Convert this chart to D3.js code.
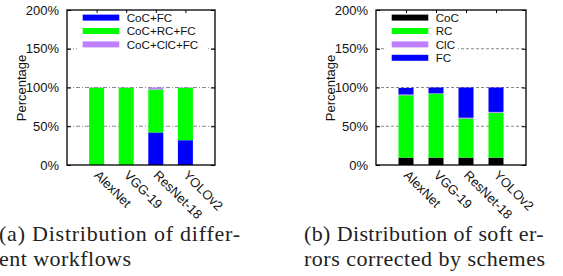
<!DOCTYPE html>
<html>
<head>
<meta charset="utf-8">
<script src="https://cdn.jsdelivr.net/npm/d3@7"></script>
<style>
  html, body { margin: 0; padding: 0; background: #fff; }
  svg { display: block; }
</style>
</head>
<body>
<svg id="chart" width="563" height="276"></svg>
<script>
// ---------- data ----------
const categories = ["AlexNet", "VGG-19", "ResNet-18", "YOLOv2"];
const yTicks = [0, 50, 100, 150, 200];

// (a) Distribution of different workflows
const workflowKeys = ["CoC+FC", "CoC+RC+FC", "CoC+ClC+FC"];
const cocFc      = [0, 0, 42, 32];
const cocRcFc    = [99.5, 99.5, 55.5, 67.5];
const cocClcFc   = [0.5, 0.5, 2.5, 0.5];

// (b) Distribution of soft errors corrected by schemes
const schemeKeys = ["CoC", "RC", "ClC", "FC"];
const cocVals = [9.5, 9.5, 9.5, 9.5];
const rcVals  = [80.5, 82.5, 50.5, 58];
const clcVals = [1, 0.5, 1, 1];
const fcVals  = [8.5, 7.5, 39, 31.5];

const captionA = ["(a) Distribution of differ-", "ent workflows"];
const captionB = ["(b) Distribution of soft er-", "rors corrected by schemes"];

const colorsA = ["#0000ff", "#00ff00", "#bf80ff"];
const colorsB = ["#000000", "#00ff00", "#bf80ff", "#0000ff"];

// ---------- drawing ----------
const svg = d3.select("#chart");
const SANS = "'Liberation Sans', Arial, Helvetica, sans-serif";
const SERIF = "'Liberation Serif', 'Times New Roman', serif";

function drawPanel(opts) {
  const { left, right, top, bottom, keys, series, colors, legendBox, gridDash } = opts;
  const g = svg.append("g");
  const rows = categories.map((c, i) => {
    const r = { cat: c };
    keys.forEach((k, j) => r[k] = series[j][i]);
    return r;
  });
  const stacked = d3.stack().keys(keys)(rows);

  const x = d3.scalePoint().domain(categories).range([left, right]).padding(1);
  const y = d3.scaleLinear().domain([0, 200]).range([bottom, top]);
  const barW = 15;

  // grid lines
  g.selectAll("line.grid").data(yTicks.filter(d => d > 0 && d < 200)).enter()
    .append("line")
    .attr("x1", left).attr("x2", right)
    .attr("y1", d => y(d)).attr("y2", d => y(d))
    .attr("stroke", "#8a8a8a").attr("stroke-width", 1)
    .attr("stroke-dasharray", gridDash);

  // bars
  stacked.forEach((layer, j) => {
    g.selectAll(null).data(layer).enter().append("rect")
      .attr("x", d => x(d.data.cat) - barW / 2)
      .attr("width", barW)
      .attr("y", d => y(d[1]))
      .attr("height", d => Math.max(0, y(d[0]) - y(d[1])))
      .attr("fill", colors[j]);
  });

  // legend box (opaque)
  g.append("rect")
    .attr("x", legendBox[0]).attr("y", top + 1)
    .attr("width", legendBox[1] - legendBox[0])
    .attr("height", keys.length * 13.6 + 1)
    .attr("fill", "#fff");
  keys.forEach((k, j) => {
    const cy = 17.6 + j * 13.4;
    g.append("rect")
      .attr("x", left + 15.7).attr("y", cy - 3)
      .attr("width", 36.6).attr("height", 6)
      .attr("fill", colors[j]);
    g.append("text")
      .attr("x", left + 59.7).attr("y", cy + 4.3)
      .style("font-family", SANS)
      .style("font-size", "11.6px")
      .attr("textLength", null)
      .attr("fill", "#111")
      .text(k);
  });

  // axes
  const yAxisL = d3.axisLeft(y).tickValues(yTicks).tickFormat(d => d + "%")
    .tickSize(-4).tickPadding(8);
  const gy = g.append("g").attr("transform", `translate(${left},0)`).call(yAxisL);
  gy.select(".domain").remove();
  gy.selectAll("text").style("font-size", "13px").style("font-family", SANS).attr("fill", "#111");
  gy.selectAll("line").attr("stroke", "#000");

  const yAxisR = d3.axisRight(y).tickValues(yTicks).tickFormat("").tickSize(-4);
  const gyr = g.append("g").attr("transform", `translate(${right},0)`).call(yAxisR);
  gyr.select(".domain").remove();

  const xAxisT = d3.axisTop(x).tickFormat("").tickSize(-3);
  const gxt = g.append("g").attr("transform", `translate(0,${top})`).call(xAxisT);
  gxt.select(".domain").remove();

  // frame
  g.append("rect")
    .attr("x", left).attr("y", top)
    .attr("width", right - left).attr("height", bottom - top)
    .attr("fill", "none").attr("stroke", "#000").attr("stroke-width", 1.3);

  // x labels rotated
  g.selectAll("text.xl").data(categories).enter().append("text")
    .attr("class", "xl")
    .style("font-size", "13px").style("font-family", SANS)
    .attr("fill", "#111")
    .attr("text-anchor", "start")
    .attr("transform", d => `translate(${x(d) - 3},${bottom + 11}) rotate(45)`)
    .text(d => d);

  // y title
  g.append("text")
    .attr("transform", `translate(${left - 41.5},${(top + bottom) / 2 + 0.5}) rotate(-90)`)
    .attr("text-anchor", "middle")
    .style("font-size", "13px").style("font-family", SANS)
    .attr("fill", "#111")
    .text("Percentage");
}

drawPanel({
  left: 67, right: 215, top: 10, bottom: 165,
  keys: workflowKeys, series: [cocFc, cocRcFc, cocClcFc], colors: colorsA,
  legendBox: [77, 206], gridDash: "4,2,1,2"
});
drawPanel({
  left: 376, right: 526, top: 10, bottom: 165,
  keys: schemeKeys, series: [cocVals, rcVals, clcVals, fcVals], colors: colorsB,
  legendBox: [386, 458], gridDash: "3,2"
});

// captions
function caption(lines, x0, widths) {
  lines.forEach((t, i) => {
    svg.append("text")
      .attr("x", x0).attr("y", 241 + i * 25)
      .style("font-family", SERIF)
      .style("font-size", "22px")
      .attr("fill", "#222")
      .attr("textLength", widths[i])
      .attr("lengthAdjust", "spacing")
      .text(t);
  });
}
caption(captionA, -1, [241, 132]);
caption(captionB, 304, [239.5, 241]);
</script>
</body>
</html>
